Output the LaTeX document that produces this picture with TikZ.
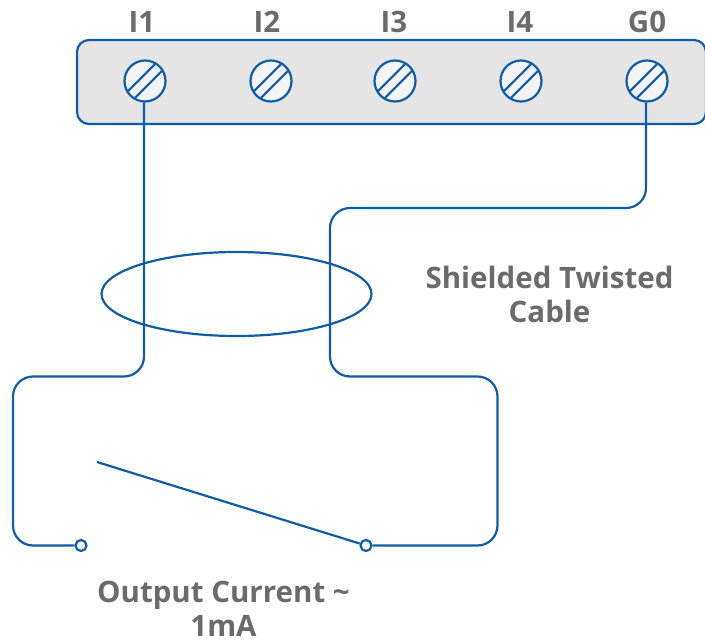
\documentclass[tikz,border=0pt]{standalone}
\usepackage{fontspec}
\usetikzlibrary{shapes.geometric}
\setmainfont{Open Sans}
\definecolor{wireblue}{HTML}{0F5CA8}
\definecolor{labelgrey}{HTML}{6B6B6B}
\definecolor{railgrey}{HTML}{E5E5E6}
\definecolor{screwgrey}{HTML}{F4F4F6}
\begin{document}
\begin{tikzpicture}[
        x=1pt, y=-1pt,
        wire/.style = {draw=wireblue, line width=2.2pt},
        screw/.style = {circle, wire, fill=screwgrey, inner sep=0pt, minimum size=41pt},
        contact/.style = {circle, wire, fill=white, inner sep=0pt, minimum size=11pt},
        tag/.style = {text=labelgrey, font=\bfseries\fontsize{29.5}{34}\selectfont, align=center, inner sep=0pt}
    ]
        \useasboundingbox (0,0) rectangle (705,640);
        \draw[wire, fill=railgrey, rounded corners=12pt] (77,40) rectangle (706,124);
        \foreach \name/\xpos/\xtag in {I1/145/142, I2/271/267, I3/395/394, I4/521/520, G0/647/647} {
            \node[screw] (\name) at (\xpos,81) {};
            \draw[wire] (\name.center) ++(-16.9,10) -- ++(26.9,-26.9);
            \draw[wire] (\name.center) ++(-10,16.9) -- ++(26.9,-26.9);
            \node[tag] (tag\name) at (\xtag,22) {\name};
        }
        \node[contact] (left) at (81,545.5) {};
        \node[contact] (right) at (366,545.5) {};
        \coordinate (armend) at (97,462);
        \draw[wire] (armend) -- (right);
        \draw[wire, rounded corners=20pt] ([xshift=-1pt]I1.south) -- (144,376.5) -- (13,376.5) -- (13,545.5) -- (left);
        \draw[wire, rounded corners=20pt] ([xshift=-1pt]G0.south) -- (646,208) -- (330,208) -- (330,376.5) -- (497.5,376.5) -- (497.5,545.5) -- (right);
        \node[wire, fill=none, ellipse, minimum width=270pt, minimum height=84pt, inner sep=0pt] (shield) at (236.5,294) {};
        \node[tag] (cable) at (549.5,294) {Shielded Twisted\\Cable};
        \node[tag] (output) at (223.5,609) {Output Current \textasciitilde\\1mA};
    \end{tikzpicture}
\end{document}
